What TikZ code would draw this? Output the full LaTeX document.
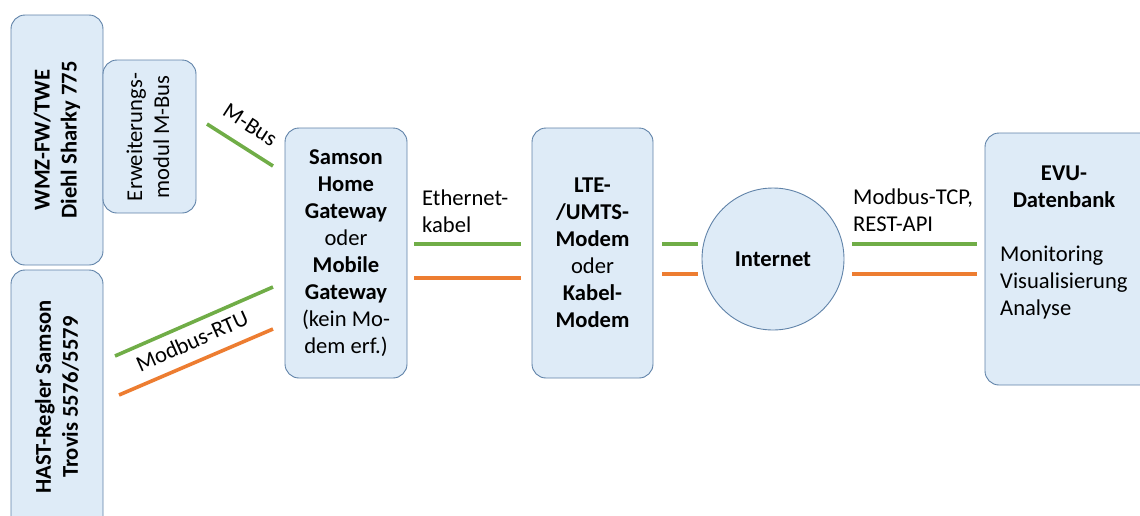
\documentclass[tikz,border=0pt]{standalone}
\usepackage{fontspec}
\setmainfont{Carlito}
\definecolor{boxfill}{HTML}{DEEBF7}
\definecolor{boxline}{HTML}{5F82A8}
\definecolor{cgreen}{HTML}{70AD47}
\definecolor{corange}{HTML}{ED7D31}
\newcommand{\dfont}{\fontsize{22.6}{27}\selectfont}
\begin{document}
\begin{tikzpicture}[x=1pt,y=-1pt,
  box/.style={draw=boxline, fill=boxfill, rounded corners=14pt, line width=0.9pt, inner sep=0pt},
  txt/.style={font=\dfont, align=center, inner sep=0pt},
  ltxt/.style={font=\dfont, align=left, inner sep=0pt},
  gline/.style={draw=cgreen, line width=3.6pt},
  oline/.style={draw=corange, line width=3.6pt}]
\useasboundingbox (0,0) rectangle (1140,515);

% boxes
\node[box, minimum width=92pt, minimum height=250pt] (wmz) at (57,140) {};
\node[box, minimum width=93pt, minimum height=153pt] (erw) at (149.5,136.5) {};
\node[box, minimum width=92pt, minimum height=270pt] (hast) at (57,405) {};
\node[box, minimum width=122pt, minimum height=250pt] (samson) at (346,253) {};
\node[box, minimum width=121pt, minimum height=250pt] (lte) at (592.5,253) {};
\node[draw=boxline, fill=boxfill, line width=0.9pt, circle, minimum size=142pt, inner sep=0pt] (inet) at (773,259) {};
\node[box, minimum width=170pt, minimum height=252pt] (evu) at (1070,259) {};

% box texts
\node[txt, rotate=90, font=\dfont\bfseries] (wmzt) at (wmz.center) {WMZ-FW/TWE\\Diehl Sharky 775};
\node[txt, rotate=90] (erwt) at (148,137) {Erweiterungs-\\modul M-Bus};
\node[txt, rotate=90, font=\dfont\bfseries] (hastt) at (57,397) {HAST-Regler Samson\\Trovis 5576/5579};
\node[txt] (samsont) at (samson.center) {\textbf{Samson}\\\textbf{Home}\\\textbf{Gateway}\\oder\\\textbf{Mobile}\\\textbf{Gateway}\\(kein Mo-\\dem erf.)};
\node[txt] (ltet) at (lte.center) {\textbf{LTE-}\\\textbf{/UMTS-}\\\textbf{Modem}\\oder\\\textbf{Kabel-}\\\textbf{Modem}};
\node[txt, font=\dfont\bfseries] (inett) at (inet.center) {Internet};
\node[txt, font=\dfont\bfseries] (evut) at (1064,187) {EVU-\\Datenbank};
\node[ltxt, anchor=west] (evul) at (1000,283) {Monitoring\\Visualisierung\\Analyse};

% connector end points
\coordinate (mb1) at (207,124);
\coordinate (mb2) at (273,166);
\coordinate (rg1) at (115,356);
\coordinate (rg2) at (273,287);
\coordinate (ro1) at (119,395);
\coordinate (ro2) at (273,329);
\coordinate (eg1) at (414,244);
\coordinate (eg2) at (521,244);
\coordinate (eo1) at (414,278);
\coordinate (eo2) at (521,278);
\coordinate (ig1) at (662,244);
\coordinate (ig2) at (698,244);
\coordinate (io1) at (662,274);
\coordinate (io2) at (698,274);
\coordinate (vg1) at (852,244);
\coordinate (vg2) at (977,244);
\coordinate (vo1) at (852,274);
\coordinate (vo2) at (977,274);

\draw[gline] (mb1) -- (mb2);
\draw[gline] (rg1) -- (rg2);
\draw[oline] (ro1) -- (ro2);
\draw[gline] (eg1) -- (eg2);
\draw[oline] (eo1) -- (eo2);
\draw[gline] (ig1) -- (ig2);
\draw[oline] (io1) -- (io2);
\draw[gline] (vg1) -- (vg2);
\draw[oline] (vo1) -- (vo2);

% connector labels
\node[txt, rotate=-33] (mbl) at (250,125) {M-Bus};
\node[txt, rotate=24] (rtul) at (192,341) {Modbus-RTU};
\node[ltxt, anchor=west] (ethl) at (422,211) {Ethernet-\\kabel};
\node[ltxt, anchor=west] (tcpl) at (853,210) {Modbus-TCP,\\REST-API};
\end{tikzpicture}
\end{document}
